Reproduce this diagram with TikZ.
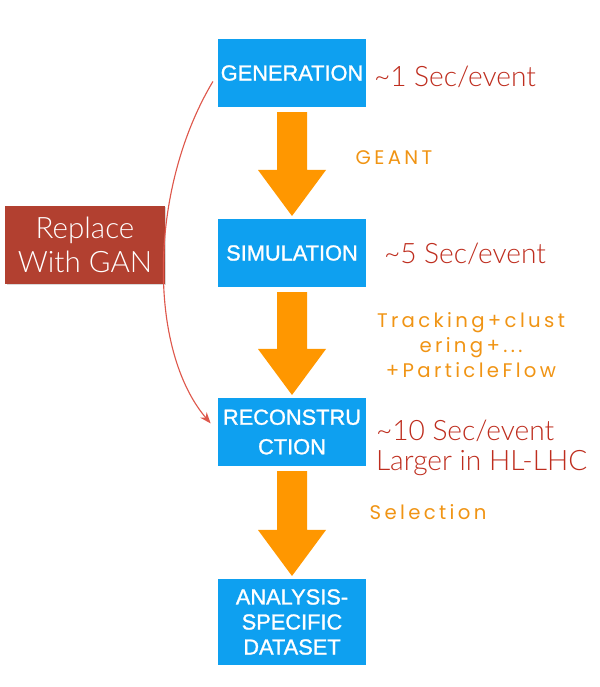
\documentclass[tikz,border=0pt]{standalone}
\usepackage{fontspec}
\setmainfont{Liberation Sans}
\newfontfamily\thinfont{Lato Light}
\newfontfamily\stagefont{Liberation Sans}[FakeBold=1.2]
\newfontfamily\techfont{Poppins}[LetterSpace=17]
\usetikzlibrary{calc,shadows,arrows.meta}
\definecolor{boxblue}{RGB}{14,160,240}
\definecolor{flow}{RGB}{255,151,0}
\definecolor{flowtext}{RGB}{240,148,20}
\definecolor{timered}{RGB}{190,45,30}
\definecolor{ganred}{RGB}{178,64,48}
\definecolor{curvered}{RGB}{222,88,76}

\begin{document}
\begin{tikzpicture}[
  x=0.025cm,
  y=-0.025cm,
  inner sep=0pt,
  outer sep=0pt,
  stage/.style={
    fill=boxblue,
    text=white,
    minimum width=3.7cm,
    minimum height=1.7cm,
    align=center,
    font=\stagefont\fontsize{15.5}{21}\selectfont,
  },
  timing/.style={
    anchor=west,
    text=timered,
    align=left,
    font=\thinfont\fontsize{20}{21}\selectfont,
  },
  tool/.style={
    text=flowtext,
    align=center,
    font=\techfont\fontsize{14}{17.8}\selectfont,
  },
]
  \useasboundingbox (0,0) rectangle (600,687);

  \node[stage] (gen) at (292,73) {GENERATION};
  \node[stage] (sim) at (292,253) {SIMULATION};
  \node[stage] (rec) at (292,432) {RECONSTRU\\CTION};
  \node[stage, minimum height=2.15cm,
    font=\stagefont\fontsize{15.5}{17.8}\selectfont] (ana) at (292,622)
    {ANALYSIS-\\SPECIFIC\\DATASET};

  \node[
    fill=ganred,
    text=white,
    minimum width=3.98cm,
    minimum height=1.95cm,
    align=center,
    font=\thinfont\fontsize{21}{24}\selectfont,
    drop shadow={opacity=0.3, shadow xshift=1pt, shadow yshift=-1pt},
  ] (gan) at (85,245) {Replace\\With GAN};

  \node[timing] (t1) at (374,77) {\char`\~1 Sec/event};
  \node[timing] (t2) at (384,254) {\char`\~5 Sec/event};
  \node[timing, font=\thinfont\fontsize{20}{21.3}\selectfont] (t3) at (376,448)
    {\char`\~10 Sec/event\\Larger in HL-LHC};

  \node[tool] (l1) at (394,158) {GEANT};
  \node[tool] (l2) at (471,345) {Tracking+clust\\ering+...\\+ParticleFlow};
  \node[tool] (l3) at (428,512) {Selection};

  \def\FlowArrow#1#2{
    \fill[flow]
      ($(#1.south)+(-15,5)$) -- ($(#1.south)+(15,5)$)
      -- ($(#2.north)+(15,-49)$) -- ($(#2.north)+(34,-49)$)
      -- ($(#2.north)+(0,-3)$)
      -- ($(#2.north)+(-34,-49)$) -- ($(#2.north)+(-15,-49)$)
      -- cycle;%
  }
  \FlowArrow{gen}{sim}
  \FlowArrow{sim}{rec}
  \FlowArrow{rec}{ana}

  \draw[curvered, thick, -{Stealth[length=8pt, width=6pt]},
    shorten <=7pt, shorten >=8pt]
    (gen.west) .. controls (148,190) and (148,350) .. (rec.west);
\end{tikzpicture}
\end{document}
